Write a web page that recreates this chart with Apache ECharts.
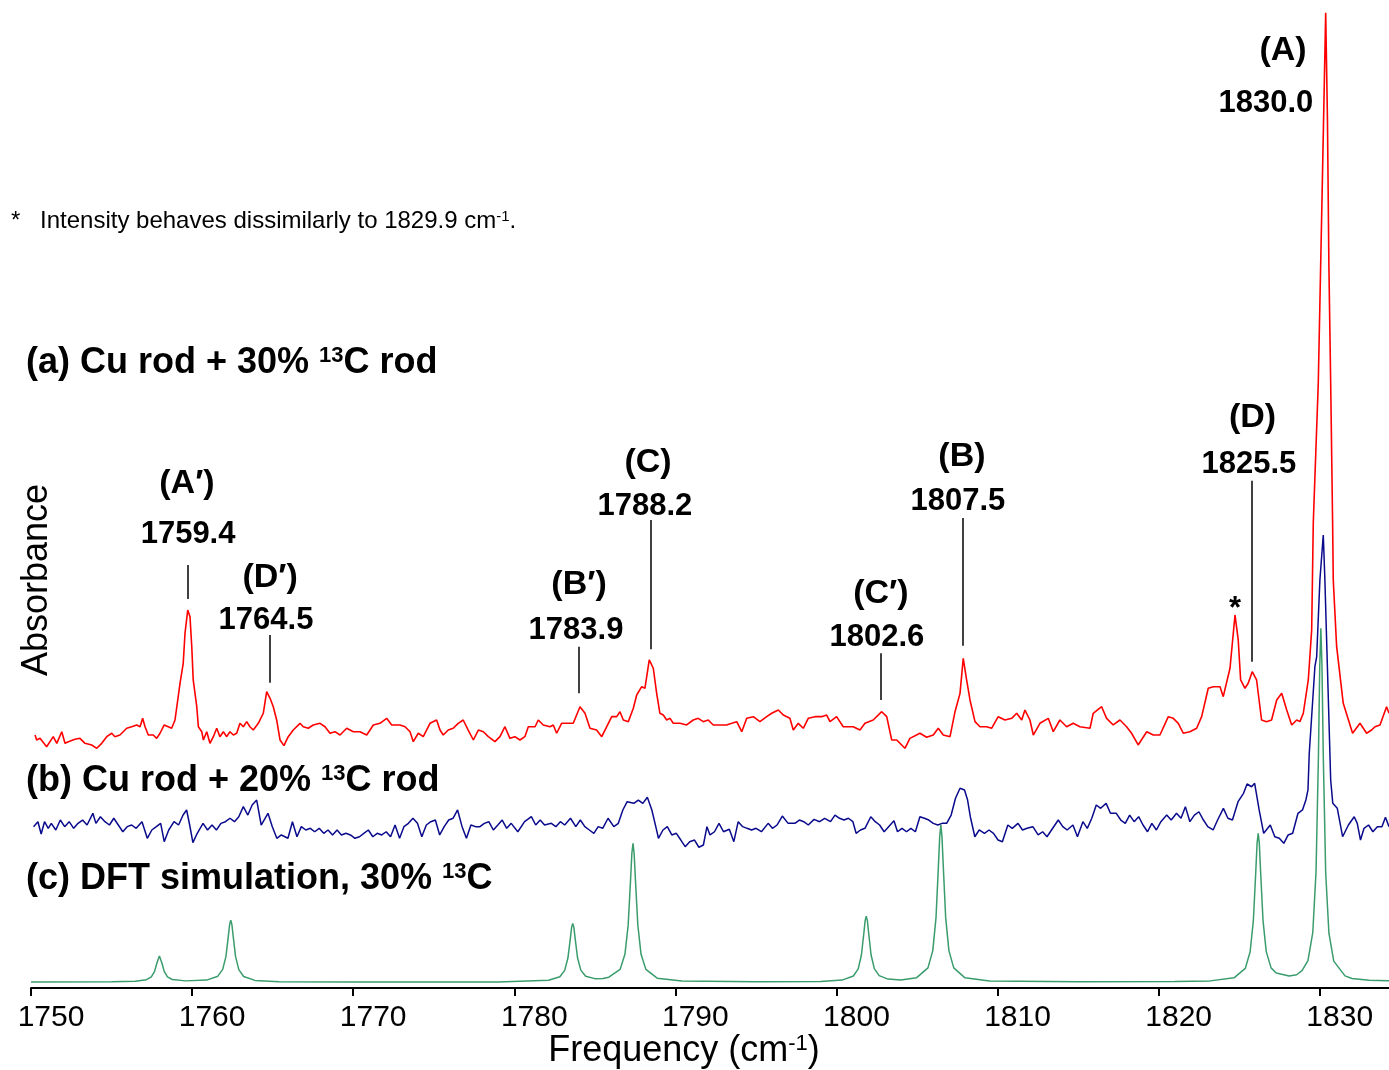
<!DOCTYPE html>
<html>
<head>
<meta charset="utf-8">
<title>Cu rod + 13C rod, CO stretch region</title>
<script src="https://cdn.jsdelivr.net/npm/echarts@6.0.0/dist/echarts.min.js"></script>
<style>
  html, body { margin: 0; padding: 0; background: #fff; }
  #main { width: 1389px; height: 1070px; }
</style>
</head>
<body>
<div id="main"></div>
<script>
// x axis ticks (cm-1)
var freqTicks = [1750, 1760, 1770, 1780, 1790, 1800, 1810, 1820, 1830];
var freqMax = 1834.3;

// (a) Cu rod + 30% 13C rod, [frequency, absorbance above own baseline]
var spectrumA = [[1750.25,0.51],[1750.35,0],[1750.56,0.17],[1750.97,-0.69],[1751.38,0.34],[1751.60,-0.34],[1751.91,0.85],[1752.11,-0.34],[1752.32,-0.17],[1752.73,0.07],[1753.04,0.17],[1753.35,-0.34],[1753.77,-0.51],[1754.08,-0.85],[1754.39,-0.34],[1754.70,0.34],[1755.01,0.69],[1755.21,0.34],[1755.52,0.51],[1755.94,1.20],[1756.25,1.36],[1756.56,1.54],[1756.77,1.36],[1756.93,2.22],[1757.08,1.36],[1757.28,0.51],[1757.59,0.51],[1757.80,0.17],[1758.01,0.69],[1758.27,1.54],[1758.52,1.36],[1758.73,1.20],[1758.94,2.05],[1759.25,5.81],[1759.45,7.86],[1759.56,10.93],[1759.73,13.32],[1759.87,12.63],[1759.98,9.56],[1760.07,6.15],[1760.29,3.41],[1760.39,1.36],[1760.60,0.85],[1760.70,0],[1760.91,0.85],[1761.11,-0.34],[1761.32,0.34],[1761.53,1.20],[1761.73,0.34],[1761.94,0.85],[1762.15,0.34],[1762.35,0.85],[1762.56,0.51],[1762.77,0.69],[1762.97,1.71],[1763.18,1.36],[1763.39,1.88],[1763.59,1.36],[1763.80,1.02],[1764.11,1.71],[1764.42,2.74],[1764.63,4.95],[1764.84,4.27],[1765.04,3.41],[1765.25,2.05],[1765.46,0],[1765.70,-0.58],[1765.97,0.34],[1766.28,1.02],[1766.70,1.71],[1766.90,1.36],[1767.21,1.20],[1767.52,1.54],[1767.94,1.71],[1768.25,1.36],[1768.56,0.69],[1768.87,0.85],[1769.18,0.51],[1769.60,1.20],[1770.01,0.85],[1770.42,0.85],[1770.84,0.51],[1771.25,1.54],[1771.66,1.71],[1772.08,2.22],[1772.39,1.54],[1772.91,1.54],[1773.22,1.36],[1773.53,0.85],[1773.73,-0.17],[1774.04,0.69],[1774.35,0.34],[1774.77,1.71],[1775.18,2.05],[1775.39,1.02],[1775.59,0.51],[1775.90,1.02],[1776.21,1.20],[1776.52,1.71],[1776.83,2.05],[1777.14,1.02],[1777.46,0],[1777.77,1.02],[1778.08,0.85],[1778.39,0.34],[1778.80,-0.17],[1779.11,0.34],[1779.42,1.36],[1779.73,0.17],[1780.04,0.34],[1780.35,0],[1780.66,0.34],[1780.87,1.36],[1781.29,1.36],[1781.49,2.05],[1781.80,1.54],[1782.22,1.36],[1782.42,1.54],[1782.63,0.69],[1782.94,1.71],[1783.25,1.71],[1783.66,1.71],[1784.08,3.41],[1784.39,2.74],[1784.70,1.20],[1785.11,1.02],[1785.43,0.34],[1785.74,1.36],[1786.05,2.39],[1786.36,2.39],[1786.56,2.90],[1786.77,2.05],[1787.08,1.88],[1787.39,3.25],[1787.60,4.61],[1787.91,5.46],[1788.11,5.30],[1788.38,8.20],[1788.63,7.35],[1788.84,4.78],[1789.04,2.74],[1789.25,2.56],[1789.46,2.05],[1789.67,2.22],[1789.87,1.71],[1790.29,1.71],[1790.70,1.54],[1791.11,2.05],[1791.42,2.22],[1791.73,1.88],[1792.04,2.05],[1792.35,1.54],[1792.77,1.54],[1793.18,1.54],[1793.50,1.71],[1793.81,1.88],[1794.12,0.85],[1794.43,2.22],[1794.84,2.39],[1795.25,1.88],[1795.67,2.39],[1795.98,2.74],[1796.39,3.07],[1796.70,2.56],[1797.11,2.22],[1797.32,1.02],[1797.63,1.71],[1797.94,1.20],[1798.25,2.22],[1798.67,2.39],[1799.08,2.39],[1799.39,2.56],[1799.60,1.88],[1800.01,2.39],[1800.42,1.36],[1801.04,1.36],[1801.46,1.02],[1801.77,1.71],[1802.28,2.05],[1802.81,2.90],[1803.12,2.39],[1803.43,0],[1803.74,0],[1804.25,-0.85],[1804.56,0.17],[1805.18,0.69],[1805.60,0.28],[1806.01,0.51],[1806.32,1.20],[1806.63,0.51],[1807.05,0.34],[1807.36,2.90],[1807.67,4.78],[1807.87,8.37],[1808.08,6.15],[1808.29,4.10],[1808.60,1.88],[1808.91,1.36],[1809.32,1.36],[1809.63,1.20],[1810.04,2.39],[1810.46,2.05],[1810.88,2.22],[1811.19,2.74],[1811.50,2.05],[1811.70,3.07],[1812.01,2.05],[1812.22,0.51],[1812.63,1.71],[1813.15,2.22],[1813.46,0.85],[1813.87,2.05],[1814.29,1.36],[1814.70,1.71],[1815.11,1.36],[1815.74,1.20],[1815.94,2.74],[1816.46,3.41],[1816.77,2.22],[1817.18,1.54],[1817.60,2.05],[1818.01,1.36],[1818.32,0.69],[1818.73,-0.51],[1819.26,0.85],[1819.67,0.51],[1820.08,0.51],[1820.60,2.39],[1820.91,2.22],[1821.22,1.71],[1821.53,0.69],[1821.94,0.85],[1822.36,1.20],[1822.67,2.39],[1823.08,5.30],[1823.39,5.46],[1823.81,5.46],[1824.01,4.44],[1824.43,7.35],[1824.74,12.81],[1824.94,10.25],[1825.09,6.15],[1825.36,5.30],[1825.56,5.81],[1825.81,7.00],[1826.08,6.15],[1826.39,2.05],[1826.70,1.88],[1827.01,2.05],[1827.33,4.10],[1827.64,4.78],[1827.95,3.07],[1828.26,1.54],[1828.57,2.05],[1828.77,1.88],[1828.98,2.74],[1829.29,6.15],[1829.50,11.27],[1829.60,22.26],[1829.91,36.58],[1830.14,55.33],[1830.37,74.5],[1830.48,63.52],[1830.57,48.46],[1830.68,36.58],[1830.80,22.26],[1830.84,16.39],[1831.05,9.56],[1831.46,3.76],[1832.04,0.69],[1832.50,1.71],[1832.91,0.69],[1833.22,1.02],[1833.43,1.36],[1833.74,1.54],[1834.15,3.41],[1834.30,2.74]];

// (b) Cu rod + 20% 13C rod
var spectrumB = [[1750.16,-0.17],[1750.43,0.34],[1750.63,-0.92],[1750.84,0.34],[1751.07,-0.34],[1751.26,0.17],[1751.54,-0.51],[1751.82,0.51],[1752.09,-0.17],[1752.37,0.34],[1752.65,-0.34],[1752.92,0.17],[1753.20,0.51],[1753.48,0],[1753.84,1.20],[1754.03,0.17],[1754.31,0.85],[1754.59,0.34],[1754.87,0],[1755.14,0.69],[1755.42,0],[1755.70,-0.69],[1755.97,-0.17],[1756.25,0],[1756.53,-0.34],[1756.89,0.34],[1757.22,-1.36],[1757.50,-0.51],[1757.78,-0.17],[1758.05,0.17],[1758.27,-1.71],[1758.55,-0.51],[1758.88,0.34],[1759.16,0],[1759.44,1.02],[1759.66,1.54],[1759.85,0],[1760.05,-1.81],[1760.32,-0.85],[1760.68,0.17],[1760.96,-0.51],[1761.24,0],[1761.51,-0.51],[1761.79,0.17],[1762.07,0.34],[1762.35,0.69],[1762.63,0.34],[1762.90,0.85],[1763.18,1.88],[1763.46,1.02],[1763.73,2.05],[1764.01,2.56],[1764.29,0],[1764.71,1.20],[1764.98,-0.17],[1765.26,-1.36],[1765.54,-1.02],[1765.95,-1.36],[1766.23,0.34],[1766.51,-1.20],[1766.78,-0.17],[1767.06,-0.51],[1767.34,-0.34],[1767.61,-0.69],[1767.89,-0.34],[1768.17,-0.85],[1768.44,-0.51],[1768.72,-1.02],[1769.00,-0.51],[1769.27,-1.02],[1769.55,-0.85],[1769.83,-1.02],[1770.11,-1.36],[1770.39,-1.20],[1770.66,-0.85],[1770.94,-0.51],[1771.22,-1.20],[1771.49,-0.85],[1771.77,-1.02],[1772.05,-0.69],[1772.32,-1.20],[1772.60,0],[1772.88,-1.36],[1773.15,-0.17],[1773.43,0.17],[1773.71,0.69],[1773.99,0.17],[1774.26,-1.20],[1774.54,0],[1774.82,0.34],[1775.10,0.51],[1775.37,-1.02],[1775.65,-0.17],[1775.93,0.51],[1776.20,0.69],[1776.48,1.54],[1776.76,-0.17],[1777.03,-1.36],[1777.31,0],[1777.59,-0.17],[1777.87,-0.17],[1778.14,0.17],[1778.42,0.34],[1778.70,-0.51],[1778.98,0],[1779.25,0.51],[1779.53,-0.34],[1779.81,0.17],[1780.22,-0.69],[1780.64,0.34],[1781.06,0.85],[1781.33,0],[1781.61,0.51],[1781.88,0],[1782.30,0.17],[1782.58,-0.17],[1782.86,0.34],[1783.13,0],[1783.49,0.69],[1783.82,-0.17],[1784.10,0.51],[1784.38,-0.17],[1784.66,-0.51],[1784.94,-0.85],[1785.21,-0.17],[1785.49,-0.34],[1785.82,0.69],[1786.18,-0.17],[1786.46,0.17],[1786.74,1.54],[1787.01,2.39],[1787.42,2.22],[1787.70,2.56],[1787.98,2.22],[1788.26,2.84],[1788.54,1.54],[1788.81,-0.34],[1788.95,-1.36],[1789.23,-0.51],[1789.50,-0.17],[1789.78,-1.02],[1790.06,-0.85],[1790.34,-1.54],[1790.61,-2.22],[1790.89,-1.71],[1791.19,-1.54],[1791.46,-2.28],[1791.74,-2.05],[1791.96,-0.17],[1792.15,-1.02],[1792.43,-0.69],[1792.71,0.17],[1792.99,-0.69],[1793.35,-0.44],[1793.63,-1.71],[1793.90,0.34],[1794.18,-0.17],[1794.45,-0.34],[1794.73,-0.51],[1795.01,-0.34],[1795.34,-0.69],[1795.76,0.17],[1796.03,-0.34],[1796.31,0],[1796.64,0.92],[1797.00,0.17],[1797.42,0.17],[1797.70,0.51],[1797.97,0.34],[1798.25,0],[1798.61,0.58],[1798.95,0.34],[1799.27,0.69],[1799.63,0.34],[1799.91,1.02],[1800.19,0.69],[1800.47,0.51],[1800.74,0.69],[1801.02,0.34],[1801.22,-0.85],[1801.49,-0.51],[1801.77,-0.34],[1802.13,0.85],[1802.41,0.34],[1802.68,0],[1802.96,-0.69],[1803.24,-0.17],[1803.57,0.44],[1803.79,-0.69],[1804.07,-0.34],[1804.35,-0.69],[1804.62,-0.34],[1804.90,-0.69],[1805.18,0.85],[1805.46,0.69],[1805.73,0.51],[1806.01,0.17],[1806.29,0],[1806.56,0.17],[1806.84,0.17],[1807.12,1.02],[1807.39,2.74],[1807.67,3.76],[1807.95,3.59],[1808.14,2.56],[1808.31,0.85],[1808.59,-1.20],[1808.86,-0.51],[1809.19,-0.85],[1809.47,-0.51],[1809.75,-0.85],[1810.03,-1.54],[1810.30,-1.71],[1810.64,0],[1810.91,-0.34],[1811.27,0.17],[1811.55,-0.51],[1811.83,-0.34],[1812.19,-0.17],[1812.52,-1.02],[1812.80,-0.69],[1813.07,-1.20],[1813.35,-0.51],[1813.77,0.51],[1814.05,-0.17],[1814.32,-0.51],[1814.68,0],[1814.96,-1.20],[1815.30,0.34],[1815.57,-0.34],[1815.85,0.69],[1816.13,2.05],[1816.40,1.71],[1816.74,2.22],[1817.01,1.20],[1817.37,1.20],[1817.65,0.51],[1817.93,0.17],[1818.20,1.02],[1818.48,0.34],[1818.76,0.85],[1819.03,0],[1819.31,-0.69],[1819.58,0.17],[1819.86,-0.51],[1820.14,0.34],[1820.50,1.02],[1820.78,0.51],[1821.11,1.20],[1821.39,0.69],[1821.66,1.88],[1821.94,0.34],[1822.22,1.02],[1822.50,1.36],[1822.78,0.51],[1823.05,-0.17],[1823.38,-0.51],[1823.66,0.51],[1824.02,1.71],[1824.30,0.69],[1824.58,0.51],[1824.93,2.39],[1825.27,3.25],[1825.49,4.20],[1825.77,3.92],[1825.96,4.27],[1826.24,1.54],[1826.52,-0.85],[1826.93,0],[1827.21,-1.20],[1827.49,-1.36],[1827.77,-1.88],[1828.04,-1.02],[1828.32,-0.85],[1828.65,1.20],[1828.93,1.54],[1829.14,2.56],[1829.27,3.59],[1829.35,7.35],[1829.70,16.22],[1829.81,17.24],[1830.01,25.10],[1830.22,29.71],[1830.32,25.10],[1830.68,4.61],[1830.81,2.22],[1831.09,1.71],[1831.42,-1.20],[1831.78,0],[1832.14,0.85],[1832.33,0.17],[1832.53,-1.54],[1832.75,-0.34],[1833.03,0],[1833.30,-0.69],[1833.58,-0.17],[1833.86,-0.17],[1834.08,0.79],[1834.30,-0.17]];

// (c) DFT simulation, 30% 13C
var spectrumC = [[1750.0,0],[1755.0,0.02],[1756.47,0.07],[1757.17,0.24],[1757.47,0.53],[1757.67,1.09],[1757.82,1.97],[1757.97,2.66],[1758.12,1.97],[1758.27,1.09],[1758.47,0.53],[1758.77,0.26],[1759.6,0.12],[1760.9,0.2],[1761.6,0.6],[1761.9,1.3],[1762.1,2.6],[1762.25,4.7],[1762.33,5.9],[1762.40,6.35],[1762.47,5.9],[1762.55,4.7],[1762.7,2.6],[1762.9,1.27],[1763.2,0.57],[1763.9,0.17],[1765.4,0.04],[1770.0,0],[1779.0,0],[1782.13,0.18],[1782.83,0.55],[1783.13,1.2],[1783.33,2.46],[1783.48,4.45],[1783.56,5.6],[1783.63,6.01],[1783.70,5.6],[1783.78,4.45],[1783.93,2.46],[1784.13,1.22],[1784.43,0.6],[1785.0,0.35],[1785.5,0.36],[1785.87,0.5],[1786.57,1.3],[1786.87,2.84],[1787.07,5.83],[1787.22,10.52],[1787.30,13.2],[1787.37,14.21],[1787.44,13.2],[1787.52,10.52],[1787.67,5.83],[1787.87,2.84],[1788.17,1.3],[1788.87,0.4],[1790.4,0.1],[1795.0,0.02],[1799.0,0.05],[1800.35,0.2],[1801.05,0.62],[1801.35,1.35],[1801.55,2.77],[1801.7,5.0],[1801.78,6.3],[1801.85,6.76],[1801.92,6.3],[1802.0,5.0],[1802.15,2.77],[1802.35,1.37],[1802.65,0.66],[1803.2,0.3],[1804.0,0.22],[1804.98,0.45],[1805.68,1.45],[1805.98,3.22],[1806.18,6.6],[1806.33,11.91],[1806.41,14.9],[1806.48,16.09],[1806.55,14.9],[1806.63,11.91],[1806.78,6.6],[1806.98,3.22],[1807.28,1.45],[1807.98,0.43],[1809.5,0.11],[1815.0,0.02],[1821.0,0.05],[1823.2,0.12],[1824.68,0.43],[1825.38,1.4],[1825.68,3.1],[1825.88,6.3],[1826.03,11.3],[1826.11,14.2],[1826.18,15.24],[1826.25,14.2],[1826.33,11.3],[1826.48,6.3],[1826.68,3.12],[1826.98,1.45],[1827.3,0.92],[1828.1,0.63],[1828.57,0.75],[1828.9,1.17],[1829.27,2.2],[1829.57,5.1],[1829.77,11.3],[1829.92,23.2],[1830.0,32.3],[1830.07,36.24],[1830.14,32.3],[1830.22,23.2],[1830.37,11.2],[1830.57,5.0],[1830.87,2.14],[1831.57,0.63],[1832.0,0.36],[1833.07,0.18],[1834.3,0.12]];

// vertical stacking of the three traces
var traceOffset = { a: 25.41, b: 16.70, c: 0.61 };

// peak annotations: label, value, where the texts sit and the short marker line
var peakNotes = [
  { tag: '(A\u2032)', num: '1759.4', tagAt: [1759.68, 51.64], numAt: [1759.75, 46.52], tick: [1759.73, 39.86, 43.34] },
  { tag: '(D\u2032)', num: '1764.5', tagAt: [1764.84, 42.01], numAt: [1764.59, 37.70], tick: [1764.82, 31.28, 36.17] },
  { tag: '(B\u2032)', num: '1783.9', tagAt: [1784.02, 41.29], numAt: [1783.83, 36.68], tick: [1784.03, 30.19, 34.97] },
  { tag: '(C)', num: '1788.2', tagAt: [1788.30, 53.79], numAt: [1788.11, 49.39], tick: [1788.47, 34.70, 47.95] },
  { tag: '(C\u2032)', num: '1802.6', tagAt: [1802.76, 40.37], numAt: [1802.51, 35.96], tick: [1802.76, 29.51, 34.29] },
  { tag: '(B)', num: '1807.5', tagAt: [1807.79, 54.41], numAt: [1807.54, 49.90], tick: [1807.81, 35.07, 48.16] },
  { tag: '(D)', num: '1825.5', tagAt: [1825.83, 58.40], numAt: [1825.60, 53.69], tick: [1825.81, 33.43, 51.98] },
  { tag: '(A)', num: '1830.0', tagAt: [1827.72, 96.00], numAt: [1826.66, 90.68], tick: null }
];
var starAt = [1824.74, 38.83];

var FONT = '"Liberation Sans", Arial, Helvetica, sans-serif';

function lift(points, off) {
  return points.map(function (p) { return [p[0], p[1] + off]; });
}

function boldLabel(text, size) {
  return { show: true, position: 'inside', formatter: text, color: '#000',
           fontFamily: FONT, fontWeight: 'bold', fontSize: size };
}

var noteData = [];
var tickLines = [];
peakNotes.forEach(function (n) {
  noteData.push({ value: n.tagAt, label: boldLabel(n.tag, 34) });
  noteData.push({ value: n.numAt, label: boldLabel(n.num, 31) });
  if (n.tick) {
    tickLines.push([{ coord: [n.tick[0], n.tick[1]] }, { coord: [n.tick[0], n.tick[2]] }]);
  }
});
noteData.push({ value: starAt, label: boldLabel('*', 31) });

var chart = echarts.init(document.getElementById('main'));
chart.setOption({
  animation: false,
  backgroundColor: '#fff',
  grid: { left: 31, right: 0, top: 12, bottom: 82, containLabel: false, outerBoundsMode: 'none' },
  xAxis: {
    type: 'value',
    min: freqTicks[0],
    max: freqMax,
    interval: freqTicks[1] - freqTicks[0],
    splitLine: { show: false },
    axisLine: { lineStyle: { color: '#000', width: 2 } },
    axisTick: { length: 8, lineStyle: { color: '#000', width: 2 } },
    axisLabel: { color: '#000', fontFamily: FONT, fontSize: 30, margin: 15, padding: [0, 0, 0, 40],
                 formatter: function (v) { return String(v); } }
  },
  yAxis: { type: 'value', min: 0, max: 100, show: false },
  series: [
    { type: 'line', data: lift(spectrumA, traceOffset.a), symbol: 'none', silent: true,
      lineStyle: { color: '#ff0000', width: 1.6 } },
    { type: 'line', data: lift(spectrumB, traceOffset.b), symbol: 'none', silent: true,
      lineStyle: { color: '#0a0a8c', width: 1.5 } },
    { type: 'line', data: lift(spectrumC, traceOffset.c), symbol: 'none', silent: true,
      lineStyle: { color: '#3a9c6c', width: 1.5 } },
    { type: 'scatter', data: noteData, symbolSize: 0, silent: true, z: 5,
      itemStyle: { opacity: 1, color: '#000' },
      markLine: { silent: true, symbol: ['none', 'none'], label: { show: false },
                  lineStyle: { color: '#000', width: 1.5, type: 'solid', opacity: 1 }, data: tickLines } }
  ],
  graphic: [
    { type: 'text', x: 26, y: 363, style: { text: '(a) Cu rod + 30% {sup|13}C rod', fill: '#000',
        fontFamily: FONT, fontWeight: 'bold', fontSize: 36, verticalAlign: 'middle',
        rich: { sup: { fontFamily: FONT, fontWeight: 'bold', fontSize: 22, verticalAlign: 'top' } } } },
    { type: 'text', x: 26, y: 781, style: { text: '(b) Cu rod + 20% {sup|13}C rod', fill: '#000',
        fontFamily: FONT, fontWeight: 'bold', fontSize: 36, verticalAlign: 'middle',
        rich: { sup: { fontFamily: FONT, fontWeight: 'bold', fontSize: 22, verticalAlign: 'top' } } } },
    { type: 'text', x: 26, y: 879, style: { text: '(c) DFT simulation, 30% {sup|13}C', fill: '#000',
        fontFamily: FONT, fontWeight: 'bold', fontSize: 36, verticalAlign: 'middle',
        rich: { sup: { fontFamily: FONT, fontWeight: 'bold', fontSize: 22, verticalAlign: 'top' } } } },
    { type: 'text', x: 11, y: 221, style: { text: '*', fill: '#000', fontFamily: FONT, fontSize: 24, verticalAlign: 'middle' } },
    { type: 'text', x: 40, y: 221, style: { text: 'Intensity behaves dissimilarly to 1829.9 cm{sup|-1}.', fill: '#000',
        fontFamily: FONT, fontSize: 24, verticalAlign: 'middle',
        rich: { sup: { fontFamily: FONT, fontSize: 15, verticalAlign: 'top' } } } },
    { type: 'text', x: 37, y: 580, rotation: Math.PI / 2, style: { text: 'Absorbance', fill: '#000',
        fontFamily: FONT, fontSize: 36, align: 'center', verticalAlign: 'middle' } },
    { type: 'text', x: 684, y: 1051, style: { text: 'Frequency (cm{sup|-1})', fill: '#000',
        fontFamily: FONT, fontSize: 36, align: 'center', verticalAlign: 'middle',
        rich: { sup: { fontFamily: FONT, fontSize: 22, verticalAlign: 'top' } } } }
  ]
});
</script>
</body>
</html>
